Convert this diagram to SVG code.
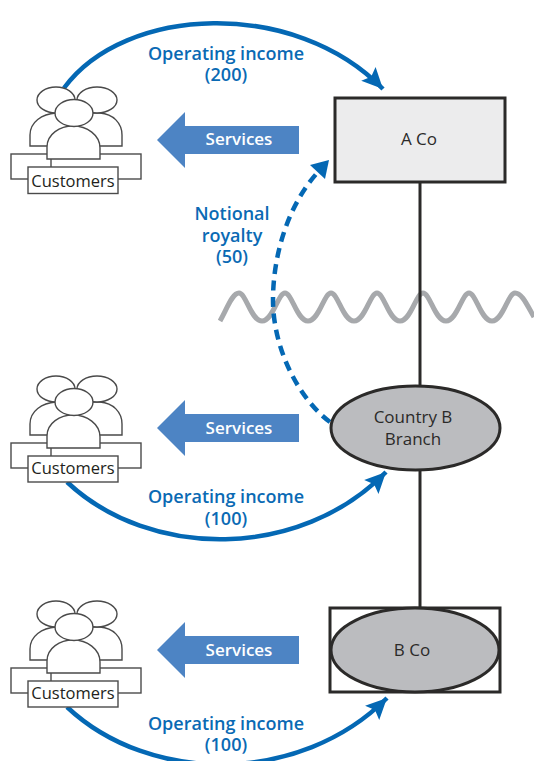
<svg xmlns="http://www.w3.org/2000/svg" xmlns:xlink="http://www.w3.org/1999/xlink" width="534" height="761" viewBox="0 0 534 761">
<style>
text{font-family:"Open Sans","Noto Sans","Liberation Sans",sans-serif;text-anchor:middle}
.lbl{font-size:18px;font-weight:600;fill:#0a6ab4}
.svc{font-size:17px;font-weight:600;fill:#fff}
.node{font-size:17px;fill:#2b2a29}
.cust{font-size:16.500px;fill:#231f20}
.ic{fill:#fff;stroke:#4a4a4a;stroke-width:1.4}
.flow{fill:none;stroke:#0468b4;stroke-width:4.500}
.dash{fill:none;stroke:#0468b4;stroke-width:4.500;stroke-dasharray:10 6.500}
.link{fill:none;stroke:#2b2a29;stroke-width:3}
.shape{stroke:#2b2a29;stroke-width:3}
.arr{fill:#4d84c4}
</style>
<defs>
<marker id="head" markerUnits="userSpaceOnUse" markerWidth="26" markerHeight="26" refX="22" refY="13" orient="auto"><path d="M1,3 L22,13 L1,23 L5,13 Z" fill="#0468b4"/></marker>
<g id="people">
<rect class="ic" x="11" y="154" width="130" height="25"/>
<path class="ic" d="M51,154 V168" fill="none"/>
<path class="ic" d="M30,146 V135 C30,122 42,114 56,113 H100 C113,114 122,123 122,135 V146 H30 Z"/>
<ellipse class="ic" cx="56" cy="100" rx="19" ry="13"/>
<ellipse class="ic" cx="97" cy="100" rx="20" ry="13"/>
<path class="ic" d="M47,159 V147 C47,134 60,126 73,126 C87,126 100,135 100,148 V159 Z"/>
<ellipse class="ic" cx="74" cy="113" rx="19" ry="13.500"/>
</g>
</defs>
<path d="M220,321 C227,309 232,293 239,293 C246,293 251,321 262,321 C273,321 278,293 285,293 C292,293 297,321 308,321 C319,321 324,293 331,293 C338,293 343,321 354,321 C365,321 370,293 377,293 C384,293 389,321 400,321 C411,321 416,293 423,293 C430,293 435,321 446,321 C457,321 462,293 469,293 C476,293 481,321 492,321 C503,321 508,293 515,293 C522,293 527,305 534,317" fill="none" stroke="#a7a9ac" stroke-width="5"/>
<g id="connectors">
<path class="link" d="M420,182 V388"/>
<path class="link" d="M420,470 V610"/>
<path class="flow" d="M64,88 C125,5 295,-2 383,89" marker-end="url(#head)"/>
<path class="flow" d="M67,482 C150,560 300,560 386,472" marker-end="url(#head)"/>
<path class="flow" d="M67,707 C150,785 300,785 387,698" marker-end="url(#head)"/>
<path class="dash" d="M330,422 C300,400 273,350 273,300 C273,255 288,205 318,172"/>
<path d="M329,160 L310,165 L325,179 Z" fill="#0468b4"/>
</g>
<g id="customers-1"><use xlink:href="#people" href="#people"/><rect class="ic" x="28" y="167" width="90" height="26.500"/><text class="cust" x="73" y="186.500">Customers</text></g>
<g id="customers-2"><use xlink:href="#people" href="#people" transform="translate(0,289)"/><rect class="ic" x="28" y="456" width="90" height="26"/><text class="cust" x="73" y="473.500">Customers</text></g>
<g id="customers-3"><use xlink:href="#people" href="#people" transform="translate(0,514)"/><rect class="ic" x="28" y="681" width="90" height="26"/><text class="cust" x="73" y="698.500">Customers</text></g>
<g id="services-1"><path class="arr" d="M157,140 L185,112 V126 H299 V154 H185 V168 Z"/><text class="svc" x="239" y="145">Services</text></g>
<g id="services-2"><path class="arr" d="M157,428 L185,400 V414 H299 V442 H185 V456 Z"/><text class="svc" x="239" y="434">Services</text></g>
<g id="services-3"><path class="arr" d="M157,650 L185,622 V636 H299 V664 H185 V678 Z"/><text class="svc" x="239" y="656">Services</text></g>
<g id="a-co"><rect class="shape" x="335" y="98" width="170" height="84" fill="#ececed"/><text class="node" x="419" y="145">A Co</text></g>
<g id="country-b"><ellipse class="shape" cx="415.500" cy="428" rx="84.500" ry="42" fill="#bbbcbf"/><text class="node" x="413" y="423">Country B</text><text class="node" x="413" y="445">Branch</text></g>
<g id="b-co"><rect class="shape" x="330" y="608" width="170" height="84" fill="#fff"/><ellipse class="shape" cx="415" cy="650" rx="84" ry="42" fill="#bbbcbf"/><text class="node" x="412" y="656">B Co</text></g>
<g id="labels">
<text class="lbl" x="226" y="60">Operating income</text><text class="lbl" x="226" y="81">(200)</text>
<text class="lbl" x="232" y="220">Notional</text><text class="lbl" x="232" y="242">royalty</text><text class="lbl" x="232" y="263">(50)</text>
<text class="lbl" x="226" y="503">Operating income</text><text class="lbl" x="226" y="525">(100)</text>
<text class="lbl" x="226" y="730">Operating income</text><text class="lbl" x="226" y="751">(100)</text>
</g>
</svg>
